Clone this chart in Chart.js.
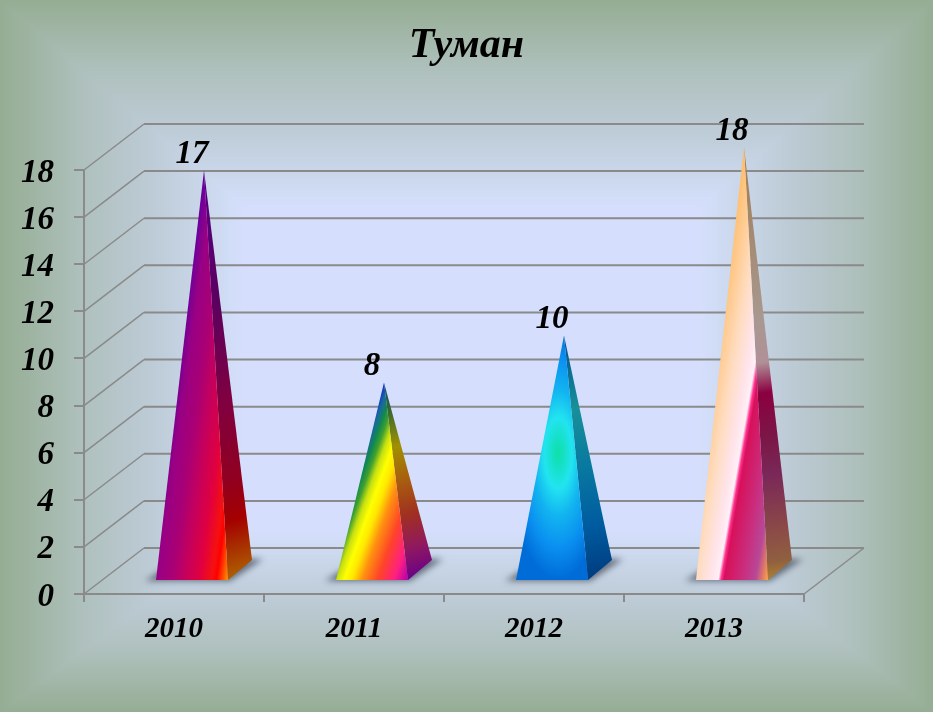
<!DOCTYPE html>
<html>
<head>
<meta charset="utf-8">
<style>
  body { margin: 0; background: #96ad94; }
  canvas { display: block; }
</style>
<script src="https://cdn.jsdelivr.net/npm/chart.js@4"></script>
</head>
<body>
<canvas id="grafico" width="933" height="712"></canvas>
<script>
const titulo = "Туман";
const anios = ["2010", "2011", "2012", "2013"];
const valores = [17, 8, 10, 18];
const yMin = 0;
const yMax = 18;
const yPaso = 2;

// profundidad de la caja 3d y de cada piramide
const fondo = { x: 60, y: -46 };
const frente = { x: 18, y: -13 };
const base = { x: 24, y: -20 };
const colorLinea = "#8a8a8a";
const fuente = "'Liberation Serif', 'Times New Roman', serif";

// colores de cada cara: direccion del degradado y paradas
const caras = [
  {
    frontal: { dir: [0.99, 0.14], paradas: [[0, "#6400a0"], [0.07, "#800090"], [0.13, "#980084"], [0.32, "#aa0074"], [0.44, "#c00062"], [0.65, "#e00040"], [0.8, "#f61010"], [0.86, "#ff0000"], [0.95, "#ff6000"], [1, "#ff9800"]] },
    lateral: { dir: [0.3, 0.95], paradas: [[0, "#4a0088"], [0.12, "#580078"], [0.32, "#5a0060"], [0.57, "#800040"], [0.76, "#900020"], [0.86, "#a40000"], [0.94, "#a83800"], [1, "#b06000"]] }
  },
  {
    frontal: { dir: [0.94, 0.34], paradas: [[0, "#1030c8"], [0.06, "#1868a0"], [0.12, "#108850"], [0.18, "#40a030"], [0.25, "#c8e010"], [0.33, "#ffff00"], [0.41, "#ffe800"], [0.52, "#ff9010"], [0.68, "#ff4428"], [0.85, "#ff2080"], [1, "#b000b0"]] },
    lateral: { dir: [0.3, 0.95], paradas: [[0, "#104880"], [0.15, "#3a6830"], [0.33, "#a09000"], [0.52, "#a85a10"], [0.68, "#a03020"], [0.85, "#901860"], [1, "#6a0088"]] }
  },
  {
    frontal: { elipse: { t: 0.48, rx: 50, ry: 126 }, paradas: [[0, "#0ee0a8"], [0.1, "#14e0c0"], [0.28, "#22e4f0"], [0.5, "#12b4f0"], [0.75, "#0a90f0"], [1, "#006cd8"]] },
    lateral: { dir: [0.2, 1], paradas: [[0, "#004c90"], [0.3, "#189098"], [0.55, "#0878a0"], [0.78, "#005ca0"], [1, "#003c80"]] }
  },
  {
    frontal: { dir: [0.985, 0.168], paradas: [[0, "#ffbc68"], [0.265, "#ffdcc0"], [0.42, "#ffe4ec"], [0.49, "#fff0f6"], [0.52, "#ff3090"], [0.55, "#d8105a"], [0.75, "#c83080"], [0.87, "#b84898"], [0.97, "#f09050"], [1, "#ffa850"]] },
    lateral: { dir: [0.15, 1], paradas: [[0, "#a07c50"], [0.4, "#a89890"], [0.5, "#b09098"], [0.57, "#8b0040"], [0.68, "#7a1848"], [0.76, "#7a2858"], [0.88, "#8a4848"], [0.96, "#906040"], [1, "#b08030"]] }
  }
];

function degradado(ctx, pts, cara) {
  const nx = cara.dir[0], ny = cara.dir[1];
  const p = pts.map(q => q[0] * nx + q[1] * ny);
  const a = Math.min(...p), b = Math.max(...p);
  const d = nx * nx + ny * ny;
  const ox = pts[0][0], oy = pts[0][1];
  const g = ctx.createLinearGradient(
    ox + nx * (a - p[0]) / d, oy + ny * (a - p[0]) / d,
    ox + nx * (b - p[0]) / d, oy + ny * (b - p[0]) / d);
  cara.paradas.forEach(s => g.addColorStop(s[0], s[1]));
  return g;
}

function poligono(ctx, pts) {
  ctx.beginPath();
  pts.forEach((q, i) => i ? ctx.lineTo(q[0], q[1]) : ctx.moveTo(q[0], q[1]));
  ctx.closePath();
}

// fondo con degradado rectangular, pixel a pixel para que no se vean las juntas
const paradasFondo = [[0, [149, 173, 147]], [0.33, [174, 192, 188]], [0.6, [188, 202, 212]], [0.84, [202, 215, 234]], [1, [213, 223, 253]]];

function colorFondo(t) {
  for (let i = 1; i < paradasFondo.length; i++) {
    if (t <= paradasFondo[i][0]) {
      const a = paradasFondo[i - 1], b = paradasFondo[i];
      const k = (t - a[0]) / (b[0] - a[0]);
      return [0, 1, 2].map(c => a[1][c] + (b[1][c] - a[1][c]) * k);
    }
  }
  return paradasFondo[paradasFondo.length - 1][1];
}

const fondoPlugin = {
  id: "fondo",
  beforeDraw(chart) {
    const ctx = chart.ctx, w = chart.width, h = chart.height;
    const x0 = w * 0.26, x1 = w * 0.75, y0 = h * 0.29, y1 = h * 0.745;
    const img = ctx.createImageData(w, h);
    for (let y = 0; y < h; y++) {
      const ty = y < y0 ? y / y0 : y > y1 ? (h - y) / (h - y1) : 1;
      for (let x = 0; x < w; x++) {
        const tx = x < x0 ? x / x0 : x > x1 ? (w - x) / (w - x1) : 1;
        const c = colorFondo(Math.min(tx, ty));
        const k = (y * w + x) * 4;
        img.data[k] = c[0];
        img.data[k + 1] = c[1];
        img.data[k + 2] = c[2];
        img.data[k + 3] = 255;
      }
    }
    ctx.putImageData(img, 0, 0);
  }
};

// paredes de la caja 3d y numeros del eje y
const cajaPlugin = {
  id: "caja",
  beforeDatasetsDraw(chart) {
    const ctx = chart.ctx, a = chart.chartArea, y = chart.scales.y;
    ctx.save();
    ctx.strokeStyle = colorLinea;
    ctx.font = "italic bold 33px " + fuente;
    ctx.fillStyle = "#000";
    ctx.textAlign = "right";
    ctx.textBaseline = "middle";
    y.ticks.forEach(t => {
      const py = y.getPixelForValue(t.value);
      ctx.lineWidth = 1.5;
      ctx.beginPath();
      ctx.moveTo(a.left, py);
      ctx.lineTo(a.left + fondo.x, py + fondo.y);
      ctx.stroke();
      ctx.lineWidth = 2;
      ctx.beginPath();
      ctx.moveTo(a.left + fondo.x, py + fondo.y);
      ctx.lineTo(a.right + fondo.x, py + fondo.y);
      ctx.stroke();
      ctx.fillText(String(t.value), a.left - 30, py + 3);
    });
    ctx.lineWidth = 1.5;
    ctx.beginPath();
    ctx.moveTo(a.right, a.bottom);
    ctx.lineTo(a.right + fondo.x, a.bottom + fondo.y);
    ctx.stroke();
    ctx.restore();
  }
};

// piramides a partir de las barras del dataset
const piramidePlugin = {
  id: "piramide",
  afterDatasetsDraw(chart) {
    const ctx = chart.ctx;
    chart.getDatasetMeta(0).data.forEach((bar, i) => {
      const mitad = bar.width / 2;
      const by = bar.base + frente.y;
      const fi = [bar.x + frente.x - mitad, by];
      const fd = [bar.x + frente.x + mitad, by];
      const td = [fd[0] + base.x, fd[1] + base.y];
      const cima = [bar.x + frente.x + base.x / 2, bar.y + frente.y + base.y / 2];

      // sombra en el suelo
      ctx.save();
      ctx.filter = "blur(3px)";
      ctx.fillStyle = "rgba(65,75,90,0.75)";
      poligono(ctx, [[fi[0] - 11, fi[1] + 1], [fd[0] + 2, fd[1] + 1], [td[0] + 11, td[1] - 1], [fi[0] + base.x, td[1] - 1]]);
      ctx.fill();
      ctx.restore();

      const lateral = [cima, fd, td];
      ctx.fillStyle = degradado(ctx, lateral, caras[i].lateral);
      poligono(ctx, lateral);
      ctx.fill();

      const frontal = [cima, fi, fd];
      const elipse = caras[i].frontal.elipse;
      if (elipse) {
        const cx = cima[0] + (bar.x + frente.x - cima[0]) * elipse.t;
        const cy = cima[1] + (by - cima[1]) * elipse.t;
        ctx.save();
        poligono(ctx, frontal);
        ctx.clip();
        ctx.translate(cx, cy);
        ctx.scale(elipse.rx, elipse.ry);
        const g = ctx.createRadialGradient(0, 0, 0, 0, 0, 1);
        caras[i].frontal.paradas.forEach(s => g.addColorStop(s[0], s[1]));
        ctx.fillStyle = g;
        ctx.fillRect(-3, -3, 6, 6);
        ctx.restore();
      } else {
        ctx.fillStyle = degradado(ctx, frontal, caras[i].frontal);
        poligono(ctx, frontal);
        ctx.fill();
      }

      // etiqueta del valor
      ctx.save();
      ctx.font = "italic bold 33px " + fuente;
      ctx.fillStyle = "#000";
      ctx.textAlign = "center";
      ctx.textBaseline = "middle";
      ctx.fillText(String(valores[i]), cima[0] - 12, cima[1] - 16);
      ctx.restore();
    });
  }
};

new Chart(document.getElementById("grafico").getContext("2d"), {
  type: "bar",
  data: {
    labels: anios,
    datasets: [{
      label: titulo,
      data: valores,
      backgroundColor: "rgba(0,0,0,0)",
      barPercentage: 0.4,
      categoryPercentage: 1
    }]
  },
  plugins: [fondoPlugin, cajaPlugin, piramidePlugin],
  options: {
    responsive: false,
    animation: false,
    layout: { padding: 0 },
    plugins: {
      legend: { display: false },
      tooltip: { enabled: false },
      title: {
        display: true,
        text: titulo,
        color: "#000",
        font: { family: fuente, size: 42, style: "italic", weight: "bold" },
        padding: { top: 21, bottom: 98.6 }
      }
    },
    scales: {
      x: {
        afterFit(scale) { scale.height = 118; },
        grid: { offset: true, drawOnChartArea: false, color: colorLinea, lineWidth: 2, tickLength: 8 },
        border: { color: colorLinea, width: 2 },
        ticks: {
          color: "#000",
          font: { family: fuente, size: 29, style: "italic", weight: "bold" },
          padding: 10,
          maxRotation: 0
        }
      },
      y: {
        min: yMin,
        max: yMax,
        afterFit(scale) { scale.width = 84; },
        grid: { drawOnChartArea: false, color: colorLinea, lineWidth: 2, tickLength: 10 },
        border: { color: colorLinea, width: 2 },
        ticks: { stepSize: yPaso, display: false }
      },
      // eje vacio: solo deja el hueco de la derecha para que el titulo quede centrado
      derecha: {
        axis: "y",
        position: "right",
        afterFit(scale) { scale.width = 129; },
        grid: { display: false },
        border: { display: false },
        ticks: { display: false }
      }
    }
  }
});
</script>
</body>
</html>
